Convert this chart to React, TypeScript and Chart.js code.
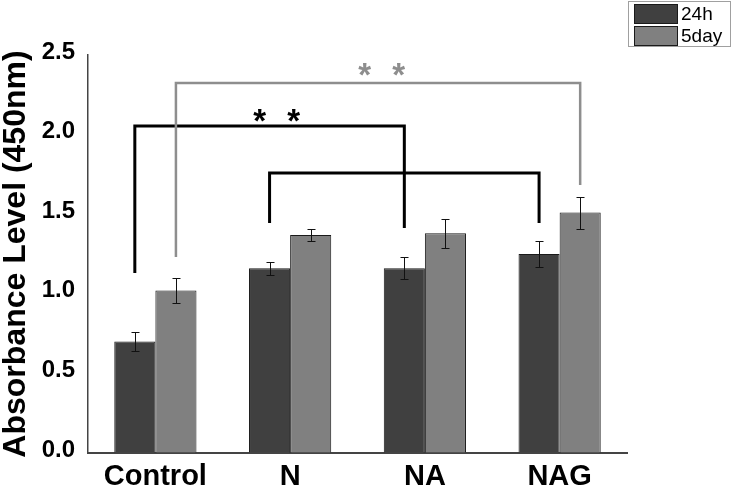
import React, { useEffect, useRef } from "react";
import { Chart, registerables } from "chart.js";

Chart.register(...registerables);

const categories = ["Control", "N", "NA", "NAG"];
const seriesLabels = ["24h", "5day"];
const values24h = [0.70, 1.16, 1.16, 1.25];
const err24h = [0.06, 0.04, 0.07, 0.08];
const values5day = [1.02, 1.37, 1.38, 1.51];
const err5day = [0.08, 0.04, 0.09, 0.10];
const yTicks = [0, 0.5, 1.0, 1.5, 2.0, 2.5];

// significance brackets: [category, series] endpoints and heights (data units)
const bracketStartCat = [0, 0, 1];
const bracketStartSeries = [0, 1, 0];
const bracketEndCat = [2, 3, 3];
const bracketEndSeries = [0, 1, 0];
const bracketTop = [2.054, 2.324, 1.759];
const bracketStartLow = [1.13, 1.231, 1.445];
const bracketEndLow = [1.413, 1.683, 1.445];
const bracketStars = [2, 2, 0];
const starCenterCat = [0.90, 1.68, 0];
const starLevel = [2.136, 2.425, 0];

const DARK = "#404040";
const LIGHT = "#808080";
const BRACKET_COLORS = ["#000000", "#8e8e8e", "#000000"];
const BRACKET_WIDTHS = [3, 2.5, 3];
const FONT = "'Liberation Sans', Arial, sans-serif";

const overlayPlugin = {
  id: "overlay",
  afterDatasetsDraw(chart: any) {
    const ctx = chart.ctx;
    const ys = chart.scales.y;
    const xs = chart.scales.x;
    const errs = [err24h, err5day];
    ctx.save();
    // error bars
    errs.forEach((e, di) => {
      const meta = chart.getDatasetMeta(di);
      meta.data.forEach((bar: any, i: number) => {
        const v = chart.data.datasets[di].data[i];
        const top = Math.round(ys.getPixelForValue(v + e[i])) + 0.5;
        const bot = Math.round(ys.getPixelForValue(v - e[i])) + 0.5;
        const cx = Math.round(bar.x) + 0.5;
        ctx.strokeStyle = "#111";
        ctx.lineWidth = 1;
        ctx.beginPath();
        ctx.moveTo(cx, top);
        ctx.lineTo(cx, bot);
        ctx.moveTo(cx - 4, top);
        ctx.lineTo(cx + 4, top);
        ctx.moveTo(cx - 4, bot);
        ctx.lineTo(cx + 4, bot);
        ctx.stroke();
      });
    });
    // brackets
    bracketStartCat.forEach((sc, k) => {
      const x1 = chart.getDatasetMeta(bracketStartSeries[k]).data[sc].x;
      const x2 = chart.getDatasetMeta(bracketEndSeries[k]).data[bracketEndCat[k]].x;
      const yt = ys.getPixelForValue(bracketTop[k]);
      const y1 = ys.getPixelForValue(bracketStartLow[k]);
      const y2 = ys.getPixelForValue(bracketEndLow[k]);
      ctx.strokeStyle = BRACKET_COLORS[k];
      ctx.lineWidth = BRACKET_WIDTHS[k];
      ctx.lineJoin = "miter";
      ctx.lineCap = "butt";
      ctx.beginPath();
      ctx.moveTo(x1, y1);
      ctx.lineTo(x1, yt);
      ctx.lineTo(x2, yt);
      ctx.lineTo(x2, y2);
      ctx.stroke();
      if (bracketStars[k] > 0) {
        const cx = xs.getPixelForValue(starCenterCat[k]);
        const cy = ys.getPixelForValue(starLevel[k]);
        const size = 33;
        ctx.fillStyle = BRACKET_COLORS[k];
        ctx.font = `bold ${size}px ${FONT}`;
        ctx.textAlign = "center";
        ctx.textBaseline = "alphabetic";
        const gap = 34;
        for (let s = 0; s < bracketStars[k]; s++) {
          const sx = cx + (s - (bracketStars[k] - 1) / 2) * gap;
          ctx.fillText("*", sx, cy + size * 0.58);
        }
      }
    });
    ctx.restore();
  },
  afterDraw(chart: any) {
    const ctx = chart.ctx;
    ctx.save();
    // legend box
    const bx = 628.5, by = 1.5, bw = 102, bh = 45;
    ctx.strokeStyle = "#a0a0a0";
    ctx.lineWidth = 1;
    ctx.strokeRect(bx, by, bw, bh);
    chart.data.datasets.forEach((ds: any, i: number) => {
      const sy = 4.5 + i * 22;
      ctx.fillStyle = ds.backgroundColor;
      ctx.fillRect(634, sy, 44, 19);
      ctx.strokeStyle = "#1a1a1a";
      ctx.strokeRect(634.5, sy, 43, 19);
      ctx.fillStyle = "#000";
      ctx.font = `19px ${FONT}`;
      ctx.textAlign = "left";
      ctx.textBaseline = "middle";
      ctx.fillText(ds.label, 681, sy + 10);
    });
    ctx.restore();
  },
};

export default function App() {
  const ref = useRef<HTMLCanvasElement | null>(null);
  useEffect(() => {
    if (!ref.current) return;
    const chart = new Chart(ref.current, {
      type: "bar",
      data: {
        labels: categories,
        datasets: [
          {
            label: seriesLabels[0],
            data: values24h,
            backgroundColor: DARK,
            borderColor: "#1a1a1a",
            borderWidth: 1,
          },
          {
            label: seriesLabels[1],
            data: values5day,
            backgroundColor: LIGHT,
            borderColor: "#1a1a1a",
            borderWidth: 1,
          },
        ],
      },
      options: {
        animation: false,
        responsive: false,
        devicePixelRatio: 1,
        layout: { padding: { left: 0, right: 108, top: 55, bottom: 0 } },
        datasets: { bar: { barPercentage: 1, categoryPercentage: 0.61 } },
        plugins: { legend: { display: false }, tooltip: { enabled: false } },
        scales: {
          x: {
            afterFit: (s: any) => {
              s.height = 34;
            },
            grid: { display: true, drawOnChartArea: false, drawTicks: false },
            border: { color: "#444", width: 2 },
            ticks: {
              color: "#000",
              padding: 7,
              font: { family: FONT, size: 29, weight: "bold", lineHeight: 1.2 },
            },
          },
          y: {
            min: 0,
            max: 2.5,
            afterFit: (s: any) => {
              s.width = 88;
            },
            afterBuildTicks: (s: any) => {
              s.ticks = yTicks.map((v) => ({ value: v }));
            },
            grid: { display: true, drawOnChartArea: false, drawTicks: false },
            border: { color: "#444", width: 1.5 },
            ticks: {
              color: "#000",
              padding: 13,
              labelOffset: -3,
              font: { family: FONT, size: 24, weight: "bold" },
              callback: (v: any) => Number(v).toFixed(1),
            },
            title: {
              display: true,
              text: "Absorbance Level (450nm)",
              color: "#000",
              padding: { top: 0, bottom: 0 },
              font: { family: FONT, size: 32, weight: "bold", lineHeight: 1 },
            },
          },
        },
      },
      plugins: [overlayPlugin],
    });
    return () => chart.destroy();
  }, []);
  return (
    <div style={{ position: "fixed", left: 0, top: 0, width: 735, height: 487, background: "#fff" }}>
      <canvas ref={ref} width={735} height={487} style={{ display: "block" }} />
    </div>
  );
}
